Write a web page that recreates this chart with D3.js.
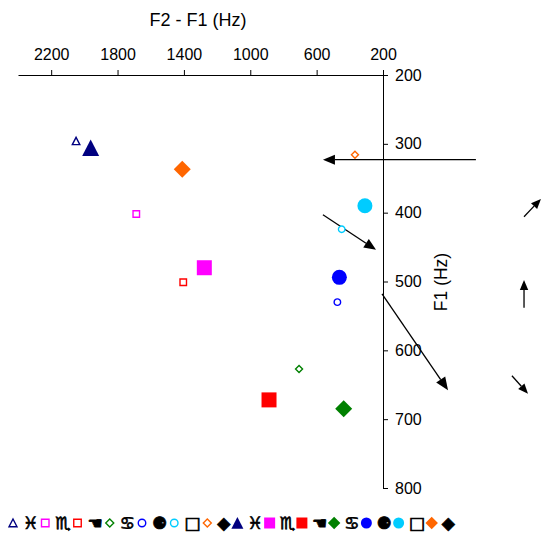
<!DOCTYPE html>
<html><head><meta charset="utf-8">
<script src="https://cdn.jsdelivr.net/npm/d3@7"></script>
<style>
body{margin:0;background:#fff;}
svg{display:block;font-family:"Liberation Sans",Arial,sans-serif;}
</style></head>
<body>
<svg id="c" width="542" height="533"></svg>
<script>
// ---- data ----
const xTicks = [2200, 1800, 1400, 1000, 600, 200];
const yTicks = [200, 300, 400, 500, 600, 700, 800];
const vowelLabels = ["♓", "♏", "☚", "♋", "⚈", "□", "◆"];
// series A (hollow, small markers)
const f2f1A = [2050, 1687, 1404, 706, 475, 449, 369];
const f1A   = [296, 402, 501, 627, 530, 424, 316];
// series B (filled, large markers)
const f2f1B = [1962, 1277, 887, 437, 463, 309, 1410];
const f1B   = [306, 480, 672, 685, 494, 390, 337];
// annotation arrows in data units [x1,y1,x2,y2] (head at x2,y2)
const arrows = [
  [-360, 323, 562, 323],
  [562, 403, 242, 454],
  [206, 518, -192, 658],
  [-650, 406, -752, 380],
  [-650, 538, -650, 498],
  [-577, 637, -674, 663]
];
const arrowHeads = [12, 12, 13, 10, 10, 10];

// ---- styles ----
const colors = ["#000080", "#FF00FF", "#FF0000", "#008000", "#0000FF", "#00CCFF", "#FF6600"];
const shapes = ["triangle", "square", "square", "diamond", "circle", "circle", "diamond"];

const svg = d3.select("#c");
svg.append("rect").attr("width", 542).attr("height", 533).attr("fill", "#fff");

const x = d3.scaleLinear().domain([2400, 200]).range([18, 383]);
const y = d3.scaleLinear().domain([200, 800]).range([75, 488]);

function shapePath(type, s) {
  const h = s / 2;
  if (type === "square") return `M${-h},${-h}H${h}V${h}H${-h}Z`;
  if (type === "diamond") return `M0,${-h}L${h},0L0,${h}L${-h},0Z`;
  if (type === "triangle") return `M0,${-h}L${h},${h*0.95}L${-h},${h*0.95}Z`;
  const p = d3.path(); p.arc(0, 0, h, 0, 2 * Math.PI); p.closePath(); return p.toString();
}
const bigSize = {square: 15, circle: 15, diamond: 17, triangle: 17};
const smallSize = {square: 6.5, circle: 6.5, diamond: 7, triangle: 7.5};
const legBig = {square: 11, circle: 11, diamond: 12.5, triangle: 12};
const legSmall = {square: 7.5, circle: 7.5, diamond: 8, triangle: 8};

// axes
const xAxis = d3.axisTop(x).tickValues(xTicks).tickSize(5).tickSizeOuter(0).tickPadding(10).tickFormat(d3.format("d"));
const gx = svg.append("g").attr("transform", "translate(0,75)").call(xAxis);
const yAxis = d3.axisRight(y).tickValues(yTicks).tickSize(5).tickSizeOuter(0).tickPadding(7).tickFormat(d3.format("d"));
const gy = svg.append("g").attr("transform", "translate(383,0)").call(yAxis);
[gx, gy].forEach(g => {
  g.selectAll("text").attr("font-size", 16).attr("fill", "#000").attr("font-family", "Liberation Sans, Arial, sans-serif");
  g.selectAll("line,path").attr("stroke", "#000").attr("stroke-width", 1);
});

svg.append("text").attr("x", 198).attr("y", 26).attr("text-anchor", "middle")
  .attr("font-size", 18).text("F2 - F1 (Hz)");
svg.append("text").attr("transform", "translate(447,282) rotate(-90)").attr("text-anchor", "middle")
  .attr("font-size", 17.5).text("F1 (Hz)");

// arrows
arrows.forEach((a, i) => {
  const x1 = x(a[0]), y1 = y(a[1]), x2 = x(a[2]), y2 = y(a[3]);
  const ang = Math.atan2(y2 - y1, x2 - x1);
  const L = arrowHeads[i], W = L * 0.42;
  const bx = x2 - L * Math.cos(ang), by = y2 - L * Math.sin(ang);
  svg.append("line").attr("x1", x1).attr("y1", y1).attr("x2", bx).attr("y2", by)
    .attr("stroke", "#000").attr("stroke-width", 1.3);
  const px = -Math.sin(ang) * W, py = Math.cos(ang) * W;
  svg.append("path").attr("d", `M${x2},${y2}L${bx + px},${by + py}L${bx - px},${by - py}Z`).attr("fill", "#000");
});

// points
const ptsA = f2f1A.map((v, i) => ({x: v, y: f1A[i], i}));
const ptsB = f2f1B.map((v, i) => ({x: v, y: f1B[i], i}));
svg.append("g").selectAll("path").data(ptsB).join("path")
  .attr("transform", d => `translate(${x(d.x)},${y(d.y)})`)
  .attr("d", d => shapePath(shapes[d.i], bigSize[shapes[d.i]]))
  .attr("fill", d => colors[d.i]);
svg.append("g").selectAll("path").data(ptsA).join("path")
  .attr("transform", d => `translate(${x(d.x)},${y(d.y)})`)
  .attr("d", d => shapePath(shapes[d.i], smallSize[shapes[d.i]]))
  .attr("fill", "#fff").attr("stroke", d => colors[d.i]).attr("stroke-width", 1.4);

// legend
const leg = svg.append("g");
let cx = 13;
const ly = 523;
const entries = [];
vowelLabels.forEach((l, i) => entries.push({i, filled: false, label: l}));
vowelLabels.forEach((l, i) => entries.push({i, filled: true, label: l}));
entries.forEach(e => {
  const sh = shapes[e.i];
  const p = leg.append("path").attr("transform", `translate(${cx},${ly})`)
    .attr("d", shapePath(sh, e.filled ? legBig[sh] : legSmall[sh]));
  if (e.filled) p.attr("fill", colors[e.i]);
  else p.attr("fill", "#fff").attr("stroke", colors[e.i]).attr("stroke-width", 1.4);
  const t = leg.append("text").attr("x", cx + 10).attr("y", ly + 6)
    .attr("font-family", "DejaVu Sans").attr("font-size", 17).attr("font-weight", "bold")
    .attr("stroke", "#000").attr("stroke-width", 0.7).text(e.label);
  const w = t.node().getComputedTextLength();
  cx = cx + 10 + w + 7;
});
</script>
</body></html>
